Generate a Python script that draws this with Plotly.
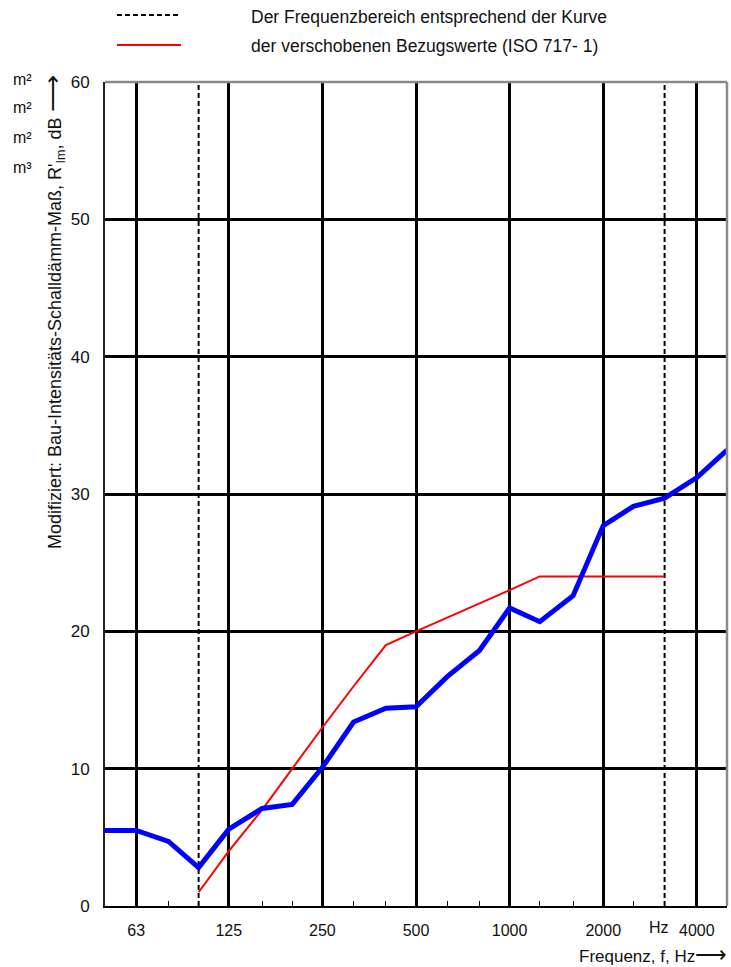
import plotly.graph_objects as go

# Third-octave band centre frequencies (Hz)
freqs = [50, 63, 80, 100, 125, 160, 200, 250, 315, 400, 500, 630, 800,
         1000, 1250, 1600, 2000, 2500, 3150, 4000, 5000]
# Measured modified field intensity sound reduction index, dB
r_im = [5.5, 5.5, 4.7, 2.8, 5.6, 7.1, 7.4, 10.1, 13.4, 14.4, 14.5, 16.7, 18.6,
        21.7, 20.7, 22.6, 27.7, 29.1, 29.7, 31.2, 33.2]

# Shifted reference curve (ISO 717-1), 100 Hz .. 3150 Hz
ref_freqs = [100, 125, 160, 200, 250, 315, 400, 500, 630, 800,
             1000, 1250, 1600, 2000, 2500, 3150]
ref_vals = [1, 4, 7, 10, 13, 16, 19, 20, 21, 22, 23, 24, 24, 24, 24, 24]

# Limits of the evaluated frequency range
range_limits = [100, 3150]

octave_ticks = [63, 125, 250, 500, 1000, 2000, 4000]
octave_labels = ["63", "125", "250", "500", "1000", "2000", "4000"]
minor_ticks = [80, 100, 160, 200, 315, 400, 630, 800, 1250, 1600, 2500, 3150]
y_ticks = [0, 10, 20, 30, 40, 50, 60]

W, H = 731, 967
L, R, T, B = 105, 4, 82, 61
PW, PH = W - L - R, H - T - B
FONT = "Liberation Sans, Arial, sans-serif"
INK = "#111"


def px(x):
    return (x - L) / PW


def py(y):
    return (H - B - y) / PH


fig = go.Figure()

for f in range_limits:
    fig.add_trace(go.Scatter(
        x=[f, f], y=[0, 60], mode="lines",
        line=dict(color="black", width=2, dash="5px,3px"),
        hoverinfo="skip", showlegend=False))

fig.add_trace(go.Scatter(
    x=ref_freqs, y=ref_vals, mode="lines",
    line=dict(color="#ff0000", width=2), showlegend=False))

fig.add_trace(go.Scatter(
    x=freqs, y=r_im, mode="lines",
    line=dict(color="#0000ff", width=5), showlegend=False))

fig.update_xaxes(
    type="log", range=[1.69897, 3.69897],
    tickmode="array", tickvals=octave_ticks, ticktext=octave_labels,
    showgrid=True, gridcolor="black", gridwidth=2.5,
    ticks="", showline=True, linecolor="black", linewidth=2,
    zeroline=False, ticklabelstandoff=9,
    tickfont=dict(family=FONT, size=16, color=INK),
    minor=dict(tickmode="array", tickvals=minor_ticks, ticks="inside",
               ticklen=5, tickcolor="black", tickwidth=1, showgrid=False),
)
fig.update_yaxes(
    range=[0, 60], tickmode="array", tickvals=y_ticks,
    showgrid=True, gridcolor="black", gridwidth=2.5,
    ticks="inside", ticklen=5, tickcolor="black",
    showline=True, linecolor="#222", linewidth=2, zeroline=False,
    ticklabelstandoff=10,
    tickfont=dict(family=FONT, size=17, color=INK),
)

shapes = [
    # top and right frame in grey
    dict(type="line", xref="paper", yref="paper", x0=0, x1=1, y0=1, y1=1,
         line=dict(color="#8a8a8a", width=2.5), layer="above"),
    dict(type="line", xref="paper", yref="paper", x0=1, x1=1, y0=0, y1=1,
         line=dict(color="#8a8a8a", width=2.5), layer="above"),
    # key samples
    dict(type="line", xref="paper", yref="paper", x0=px(117), x1=px(181),
         y0=py(15), y1=py(15), line=dict(color="black", width=1.8, dash="5px,3px")),
    dict(type="line", xref="paper", yref="paper", x0=px(117), x1=px(181),
         y0=py(45), y1=py(45), line=dict(color="#ff0000", width=2)),
]

annotations = []
for text, yy in [("Der Frequenzbereich entsprechend der Kurve", 17),
                 ("der verschobenen Bezugswerte (ISO 717- 1)", 46)]:
    annotations.append(dict(text=text, xref="paper", yref="paper", x=px(249),
                            y=py(yy), xanchor="left", yanchor="middle",
                            showarrow=False, font=dict(family=FONT, size=17.5, color=INK)))

for lab, yy in zip(["m²", "m²", "m²", "m³"], [80, 108, 138, 167]):
    annotations.append(dict(text=lab, xref="paper", yref="paper", x=px(11), y=py(yy),
                            xanchor="left", yanchor="middle", showarrow=False,
                            font=dict(family=FONT, size=16, color=INK)))

annotations.append(dict(
    text="Modifiziert: Bau-Intensitäts-Schalldämm-Maß, R'<sub>Im</sub>, dB "
         "<span style='font-size:26px'>⟶</span>",
    xref="paper", yref="paper", x=px(52), y=py(312), xanchor="center",
    yanchor="middle", textangle=-90, showarrow=False,
    font=dict(family=FONT, size=18, color=INK)))

annotations.append(dict(text="Hz", xref="paper", yref="paper", x=px(659), y=py(927),
                        xanchor="center", yanchor="middle", showarrow=False,
                        font=dict(family=FONT, size=16, color=INK)))
annotations.append(dict(text="Frequenz, f, Hz<span style='font-size:22px'>⟶</span>",
                        xref="paper", yref="paper",
                        x=px(729), y=py(954), xanchor="right", yanchor="middle",
                        showarrow=False, font=dict(family=FONT, size=17, color=INK)))

fig.update_layout(
    width=W, height=H, margin=dict(l=L, r=R, t=T, b=B),
    plot_bgcolor="white", paper_bgcolor="white",
    shapes=shapes, annotations=annotations, showlegend=False,
)

fig.write_html("out.html")
